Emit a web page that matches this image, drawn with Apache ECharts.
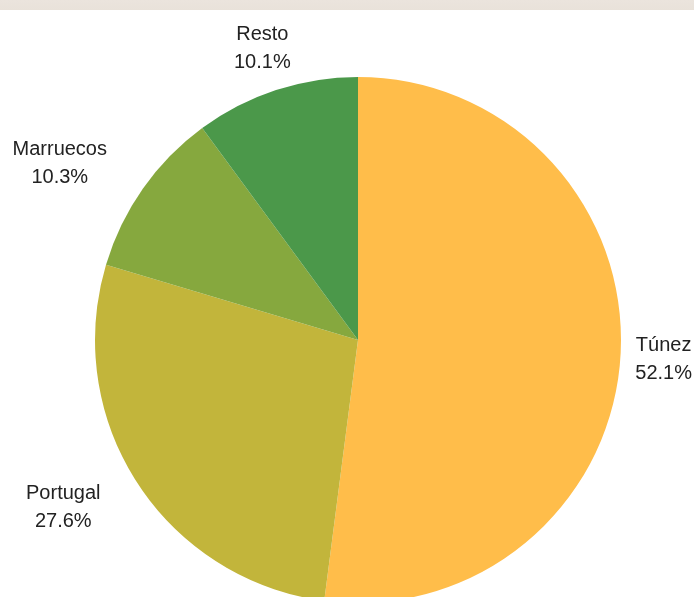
<!DOCTYPE html>
<html>
<head>
<meta charset="utf-8">
<script src="https://cdn.jsdelivr.net/npm/echarts@6/dist/echarts.min.js"></script>
<style>
  html, body { margin: 0; padding: 0; }
  body {
    width: 694px; height: 597px; overflow: hidden;
    background: linear-gradient(to bottom, #ebe4dd 0px, #e9e2da 10px, #ffffff 10px, #ffffff 100%);
  }
  #chart { width: 694px; height: 597px; }
</style>
</head>
<body>
<div id="chart"></div>
<script>
const categories = ['Túnez', 'Portugal', 'Marruecos', 'Resto'];
const values = [52.1, 27.6, 10.3, 10.1];
const palette = ['#ffbd4a', '#c2b53b', '#86a83e', '#4b984a'];

const W = 694, CX = 358, CY = 340, R = 263, LABEL_OFFSET = 44, EDGE = 2;
const total = values.reduce((a, b) => a + b, 0);
const cumBefore = values.map((v, i) => values.slice(0, i).reduce((a, b) => a + b, 0));

const chart = echarts.init(document.getElementById('chart'), null, { renderer: 'canvas' });
chart.setOption({
  animation: false,
  backgroundColor: 'transparent',
  color: palette,
  series: [{
    type: 'pie',
    center: [CX, CY],
    radius: [0, R],
    startAngle: 90,
    clockwise: true,
    avoidLabelOverlap: false,
    data: categories.map((c, i) => ({ name: c, value: values[i] })),
    itemStyle: { borderWidth: 0 },
    emphasis: { disabled: true },
    label: {
      show: true,
      position: 'outside',
      formatter: p => p.name + '\n' + p.value.toFixed(1) + '%',
      fontFamily: 'Liberation Sans, Arial, sans-serif',
      fontSize: 20,
      lineHeight: 28,
      color: '#222',
      align: 'center'
    },
    labelLine: { show: false },
    labelLayout: function (params) {
      const i = params.dataIndex;
      const a = (cumBefore[i] + values[i] / 2) / total * Math.PI * 2;
      const ux = Math.sin(a), uy = -Math.cos(a);
      const w = params.labelRect.width;
      const D = R + LABEL_OFFSET;
      let x = CX + ux * D;
      const y = CY + uy * D;
      // horizontal alignment by side; center for near-vertical directions
      let left;
      if (Math.abs(ux) < 0.4) left = x - w / 2;
      else if (ux < 0) left = x - w;
      else left = x;
      // keep inside the canvas
      if (left + w > W - EDGE) left = W - EDGE - w;
      if (left < EDGE) left = EDGE;
      return { x: left + w / 2, y: y, align: 'center', verticalAlign: 'middle' };
    }
  }]
});
</script>
</body>
</html>
